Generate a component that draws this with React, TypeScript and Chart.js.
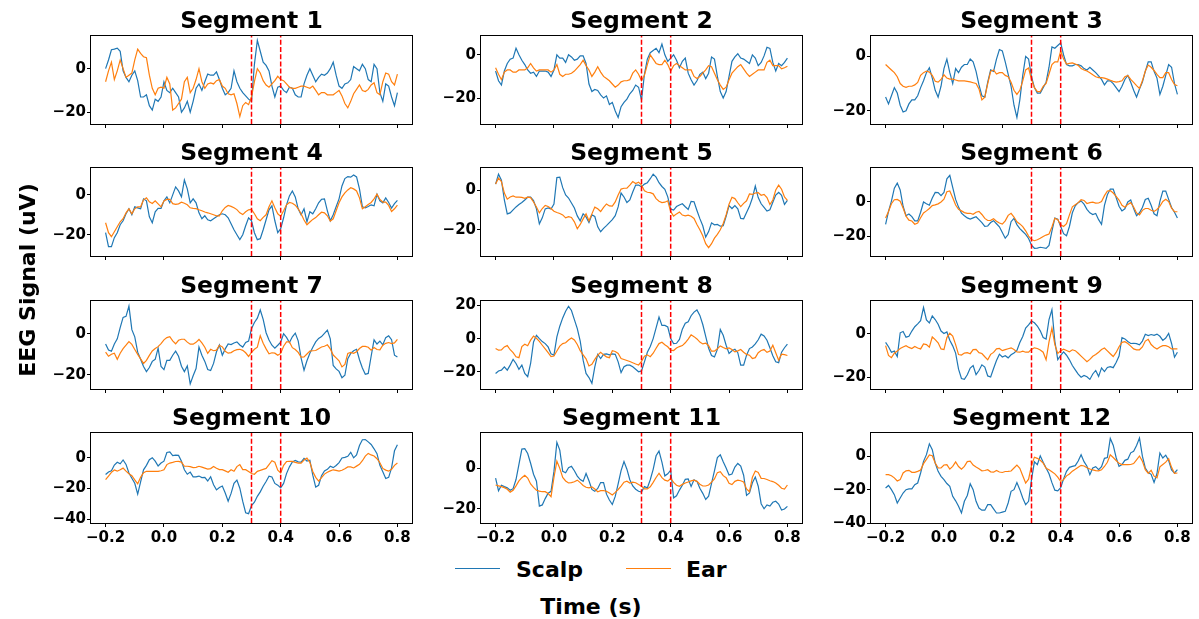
import React, { useEffect, useRef } from "react";
import { Chart, registerables } from "chart.js";

Chart.register(...registerables);

const FONT = "'DejaVu Sans', 'Liberation Sans', sans-serif";
const SCALP_COLOR = "#1f77b4";
const EAR_COLOR = "#ff7f0e";
const STIM_COLOR = "#ff0000";

// Sample times (s) of the epoch
const TIMES = [
  -0.2, -0.19, -0.18, -0.17, -0.16, -0.15, -0.14, -0.13, -0.12, -0.11,
  -0.1, -0.09, -0.08, -0.07, -0.06, -0.05, -0.04, -0.03, -0.02, -0.01,
  0.0, 0.01, 0.02, 0.03, 0.04, 0.05, 0.06, 0.07, 0.08, 0.09,
  0.1, 0.11, 0.12, 0.13, 0.14, 0.15, 0.16, 0.17, 0.18, 0.19,
  0.2, 0.21, 0.22, 0.23, 0.24, 0.25, 0.26, 0.27, 0.28, 0.29,
  0.3, 0.31, 0.32, 0.33, 0.34, 0.35, 0.36, 0.37, 0.38, 0.39,
  0.4, 0.41, 0.42, 0.43, 0.44, 0.45, 0.46, 0.47, 0.48, 0.49,
  0.5, 0.51, 0.52, 0.53, 0.54, 0.55, 0.56, 0.57, 0.58, 0.59,
  0.6, 0.61, 0.62, 0.63, 0.64, 0.65, 0.66, 0.67, 0.68, 0.69,
  0.7, 0.71, 0.72, 0.73, 0.74, 0.75, 0.76, 0.77, 0.78, 0.79,
  0.8,
];

// Analysis window boundaries (s)
const STIM_TIMES = [0.3, 0.4];

const X_TICKS = [-0.2, 0, 0.2, 0.4, 0.6, 0.8];
const X_TICK_LABELS = ["\u22120.2", "0.0", "0.2", "0.4", "0.6", "0.8"];

const SEGMENT_TITLES = [
  "Segment 1", "Segment 2", "Segment 3", "Segment 4", "Segment 5", "Segment 6",
  "Segment 7", "Segment 8", "Segment 9", "Segment 10", "Segment 11", "Segment 12",
];

// Scalp channel (uV)
const scalpSeg1 = [
  0, 4, 8.7, 9, 9.4, 8, -1, -4, -6, -3,
  -1, -5.5, -13, -13, -12, -17, -19, -14, -15, -13,
  -6, -10, -11, -9, -11, -13, -20, -18, -15, -20,
  -15, -9, -7, -10, -6, -2.5, -3, -3, -1.5, -5,
  -9, -12, -11, -9, -1, -6, -9, -11, -12.5, -14,
  -15, 2, 13, 8, 3, 1.5, -1, -8, -13, -8.5,
  -8, -10, -11, -8.5, -9, -12, -13, -13, -7, -3,
  0, -3, -6, -4, -2.5, -3, -2, 0, 3, -3,
  -8, -9, -7, -6.5, -5, 1, 0, -1, 2, 0,
  -5, -6, 2, 0, -11, -15, -7, -8, -13, -17,
  -11,
];
const scalpSeg2 = [
  -7.5, -12, -14, -7.5, -4, -2, -1.5, 3, 0, -2.5,
  -4.5, -7, -8.5, -8, -10, -7.5, -7.5, -7.5, -8, -10,
  -7, 0, -1.5, -1.5, -3.5, 0, -1, -2.5, -2, -0.5,
  -0.5, -4, -13.5, -17, -16, -16.5, -18.5, -20, -19, -23,
  -22, -26, -29, -24, -22, -20.5, -18, -16.5, -14, -15,
  -21, -9, -2, 1, 2, 3, 1, 5, 0, -3,
  -1.5, 0, -2.5, -6, -3, -1.5, -8.5, -11.5, -14, -12,
  -9, -8, -11, -8.5, -1, -2, -10, -17, -20, -17,
  -10, -3, -1, 0.5, -1.5, -2, -3, -4, 0, -1.5,
  -5, -3.5, -0.5, 3.5, 3, -3.5, -7.5, -4, -5, -3.5,
  -1.5,
];
const scalpSeg3 = [
  -15, -17.5, -14.5, -11.5, -13.5, -18, -20.5, -20, -17.5, -16,
  -16, -14.5, -11.5, -9, -6, -4.2, -8, -12.5, -15, -11,
  -4.5, -1, -6, -10, -4.5, -6, -4, -3, -3, -1,
  -2, -5.5, -10.5, -14.5, -15, -9.5, -5, -5.5, -1, 2.5,
  2, -2, -6.5, -11, -18, -22.5, -16, -7, 0, -1,
  -7.5, -11.5, -13.5, -13.5, -11.5, -9.5, -4, 3.5, 3, 4,
  5, 0.5, -3, -3.5, -3.5, -3, -3, -3.5, -4.5, -5,
  -4, -5, -6, -7.2, -8.5, -10.5, -9, -9, -10, -11.5,
  -13, -11, -8.5, -7, -9.5, -12.5, -15, -12, -9.5, -5.5,
  -2, -2, -5.5, -8, -14, -11, -7, -3, -4, -10,
  -14,
];
const scalpSeg4 = [
  -19, -26, -26, -21.5, -19, -15, -13, -9.5, -7, -10,
  -6, -6.5, -7, -2, -3, -11, -14, -8.5, -6.8, -6.8,
  -3, -1, -4, 0, 4, 2, -1, 7.5, 3, -4,
  -2, -4, -9, -12, -10.5, -12.5, -13, -12, -11, -10,
  -9.5, -10, -11.5, -14.5, -17.5, -20, -22.5, -20, -15.5, -11.5,
  -13, -19, -22.5, -22, -17.5, -12.5, -7.5, -5.5, -13, -19,
  -17, -11.5, -5, -0.5, 2, -1, -7, -10, -7, -13.5,
  -8.5, -9.5, -7, -4, -2.2, -2, -8, -13, -10, -6,
  -2, 4.5, 8.2, 9.2, 8.9, 10, 9, 3, -6, -6.5,
  -5.8, -5, -5.5, 0.3, -3, -4, -1.5, -3.8, -6.6, -4.4,
  -2.8,
];
const scalpSeg5 = [
  3, 8, 5, -5, -12, -11.5, -10, -8.5, -7.3, -6.3,
  -5, -3.6, -3.6, -5.3, -9.5, -17, -14, -9.5, -9, -9.6,
  -7, 6.3, 6.5, 1.2, -2.5, -4, -6.5, -9, -13, -15.5,
  -12, -13.5, -16.4, -12.5, -13.3, -18.5, -21, -19.3, -17.9, -16.4,
  -14.9, -12.9, -8.5, -1.5, -3.5, -6.3, -5, -1, 2.5, 2.5,
  1.7, 3, 3.7, 5.7, 8, 6.5, 3.7, 1.8, 0.4, -3.4,
  -9.6, -10.1, -8.3, -7.5, -6.9, -8.4, -9.8, -5.7, -5.9, -10.3,
  -14.4, -18, -23.7, -20.9, -16.5, -17.5, -17.3, -18.2, -18, -13.2,
  -7.8, -9.3, -7.8, -9.5, -14.3, -14.5, -11.3, -8.2, -4, 2,
  -3.8, -6.9, -8.7, -10.6, -9.9, -6.1, -2.5, -1.2, -2.7, -7.2,
  -5.2,
];
const scalpSeg6 = [
  -13, -5.5, 0.5, 8, 11, 7, -2.5, -8, -7, -8.5,
  -11, -11, -6, 0, -1, -1.9, 2.3, 5.6, 5.5, 3.7,
  5.5, 13.5, 15.5, 8.5, 1.5, -3, -6.5, -8, -9.3, -10,
  -9.3, -8.6, -10.3, -12, -14.2, -14, -12, -10.9, -12.7, -14.5,
  -17.8, -21.1, -19, -11.5, -9.5, -13.2, -15.5, -17.2, -18.9, -21.3,
  -25.2, -27, -26.9, -26.4, -26.7, -27.1, -25.3, -17, -9.4, -10,
  -14.3, -18.5, -19.7, -14.3, -6.3, -2.2, -0.4, 0.6, -1.3, -4.3,
  -6.3, -7.3, -6.7, -10.3, -13, -2, 4.2, 7.5, 7.5, 2.6,
  -2.5, -5.2, -4, 0, 1.2, -3.9, -8, -6.3, -3.2, 1.4,
  2.2, -1.9, -6.9, -8, 0.4, 6.3, 6.3, 1.5, -3.2, -6,
  -9.4,
];
const scalpSeg7 = [
  -5, -8, -8.5, -5, -2.5, 3, 8, 8.5, 13.5, 2,
  -1.5, -9, -12.5, -16, -18.5, -16.5, -13.5, -12.5, -7, -16,
  -17.5, -13, -13, -10.5, -8.5, -11, -15.9, -18.5, -15.7, -24.5,
  -20.5, -17, -6.5, -10.5, -13.5, -17.5, -18, -14.5, -8.8, -5.5,
  -10.5, -7.4, -5, -5.3, -4.5, -4, -5.5, -6.5, -4.3, -3.6,
  2.5, 5.5, 7.6, 11.6, 7, 0.5, -3.1, -5.6, -7, -5.6,
  -4.1, 0, -1.8, -4.3, -1.5, 0.3, -3.5, -11.9, -17.8, -13.2,
  -9.5, -6.6, -4, -2.3, -1.4, 0.2, 1.8, -2.5, -15.5, -17.2,
  -18.4, -21.5, -20.3, -12.2, -9.6, -8.3, -7.6, -12.7, -16.7, -19.8,
  -19.4, -11, -3, -5, -3.6, -5.4, -1.9, -1, -2.9, -10.5,
  -11.4,
];
const scalpSeg8 = [
  -21, -19.5, -19, -17, -19, -16, -12.5, -15, -18.5, -16,
  -21, -23, -15, -2, 2, 0, -1.8, -3, -5, -9.2,
  -10, 1, 7.5, 12.5, 16.5, 19.5, 17, 11.5, 6, -1.5,
  -13, -21, -23.5, -27, -17, -9.5, -12, -9.5, -9.2, -9.8,
  -9.2, -9.5, -14, -20.5, -17, -16, -16, -17, -18.5, -20,
  -19.5, -14, -8.2, -4.8, 0, 6.5, 13, 8, 8, 7,
  0, -3, -2.8, -0.5, 5.7, 9.3, 10.2, 13.8, 16, 17.3,
  14, 8.5, 1.3, -5.8, -10.2, -11, -6.5, 5.5, 2, -4,
  -9, -7.3, -6.4, -8.5, -16, -16, -10, -6, -5, -3.2,
  -0.7, 2.7, 1.6, -1, -5.5, -10.3, -14, -14.5, -8.2, -5.5,
  -3.3,
];
const scalpSeg9 = [
  -4, -6, -8.5, -8, -10.5, 0.4, 1, -1.6, -1.2, 1.2,
  3.2, 4.5, 6, 12, 6.3, 4.9, 8.2, 6.5, 4.3, 1.2,
  0.1, 0.8, -3, -5.6, -8.9, -16.3, -20.6, -21, -18.9, -15.8,
  -14.6, -18.8, -16.9, -14.3, -15.3, -19.4, -19.9, -16, -12.3, -9.4,
  -10.7, -10.1, -11.1, -9.7, -8.9, -7.7, -4.1, -1.3, 2.6, 4,
  5.8, 5, 3.5, 1.3, -1.8, -2.5, 6.5, 11, -3.5, -11.9,
  -10, -8.4, -9.9, -12, -14.6, -16.6, -18.6, -20, -19.2, -19.8,
  -21, -18.5, -16.9, -19.6, -15.7, -17.4, -15.5, -15.1, -15.6, -13.2,
  -10.3, -1.8, -2.4, -3.6, -4.5, -4.4, -4.6, -5.1, -3.4, -0.3,
  -0.9, -0.4, -0.8, -0.2, -1.2, -3.1, -2, 0.1, -4.5, -10.8,
  -8.5,
];
const scalpSeg10 = [
  -11, -9.3, -8.5, -4.8, -3, -4, -1.5, -4.4, -10, -13.4,
  -16.7, -23.8, -15.8, -7.9, -5, -1.3, 0, -2.3, -5.4, -3.5,
  -2.3, 3.4, 3.8, 1.3, 1.7, 1.5, -2.3, -7.9, -10.8, -9.4,
  -12.5, -12.5, -12, -13, -12.8, -15.2, -12.4, -17.6, -21, -19.4,
  -18.5, -23, -28.4, -23.3, -16.7, -14.6, -19.9, -28.5, -35.9, -36.5,
  -31.2, -29, -25.2, -22.3, -18.6, -15.5, -12.1, -12.6, -16.8, -17.9,
  -19.7, -16.8, -10.4, -6, -2.8, -1.8, -2.7, -2.9, -0.4, -2.2,
  -1.7, -11.4, -19.2, -18, -11.7, -8.6, -7.6, -5.6, -6.5, -5.1,
  -3.2, -0.2, 0.2, 0.9, 3.5, -0.1, 1.8, 7.9, 11.7, 11.8,
  10.3, 8.6, 5.8, 2.6, -5, -9.2, -13.6, -12.8, -6.7, 4.5,
  8.5,
];
const scalpSeg11 = [
  -4.8, -11, -8.3, -9, -9.6, -10.8, -10, -5.5, 2, 9.5,
  9.7, 7.3, 2.5, -2.9, -6.3, -18.6, -18, -14.9, -12.2, -11.3,
  -1.5, 12.8, 9, -1.5, -2.2, 0.3, 1, -1.2, -3.8, -5.5,
  -6.4, -2.5, -6.1, -10.4, -11.3, -9.9, -7, -7, -12.7, -15.6,
  -17.8, -13.8, -7.6, -1.1, 3.3, -0.4, -5.6, -8.7, -10.3, -11.3,
  -11.7, -9, -9.6, -5.6, -0.5, 6.2, 8.5, 3.1, -3.7, -2.7,
  -0.9, -14.5, -13.5, -10.7, -8.3, -5.4, -5.2, -8.9, -5.6, -6.4,
  -9.8, -12.3, -15.3, -13.7, -7.4, -1.2, 5.3, 6.7, 3.2, 0.2,
  -3.3, -2.8, 0.6, 2.4, 1.1, -3.4, -13.3, -12.1, -7.1, -4.3,
  -8.8, -17.4, -19.9, -18, -18.6, -16.7, -16.2, -17.6, -20.5, -20,
  -18.7,
];
const scalpSeg12 = [
  -19, -17.5, -20, -23, -28, -25, -22, -20, -19.5, -19.5,
  -17, -16, -10, -3, 1, 7.5, 4, -4, -9, -12,
  -14, -16.3, -18, -24, -26.7, -30, -34, -27, -23.5, -16.5,
  -20, -27, -31, -32.3, -32.3, -29, -29, -31.5, -34, -34,
  -33.5, -33, -28, -21, -20, -15.7, -20, -25, -29, -27,
  -14, -3.3, -5, 0.3, -3.6, -7, -10.5, -15.8, -20.3, -20.7,
  -18.8, -13.5, -9, -6.6, -6, -5.6, -2.8, 1, -3.2, -5.9,
  -11, -7, -6.2, -8, -6.2, -1.2, -0.7, 10.7, 6.7, -0.7,
  -6, -5, -2.4, -1.7, 2.1, 3, 6.5, 11, 0.1, -7,
  -9.7, -10.8, -15.7, -10.3, 2, -1, 0.7, -2.5, -8.2, -10,
  -8,
];

// Ear reference channel (uV)
const earSeg1 = [
  -6, -1, 3, -5, -1, 4, 0, -4, -3, -2,
  4, 9, 7, 5.5, 5, -3, -9, -12, -9, -8.5,
  -9, -4, -7, -19, -18, -16, -14, -6, -4, -11,
  -9, -5, 0, -6, -9, -7, -6.5, -7, -5.5, -5,
  -8, -9, -11.5, -12, -11.5, -16, -22, -17, -15.5, -16.5,
  -13, -6, 0, -2, -5.5, -7.5, -8.5, -7, -5.5, -3.5,
  -5, -5.5, -7, -8.5, -9, -9, -8.5, -8, -8, -8.5,
  -9, -8, -10, -12, -11, -11, -12, -12, -12, -11,
  -10, -12.5, -16, -18, -15, -11.5, -9.5, -7.5, -10, -10.5,
  -9.5, -7.5, -6.5, -11, -12, -6, -2, -2.5, -6, -7.5,
  -2.5,
];
const earSeg2 = [
  -6, -9, -11.5, -8, -7, -7, -8, -8, -7, -7,
  -7, -6, -4, -6, -7.5, -7, -7, -7, -7, -8,
  -7, -4.5, -9, -10, -9, -9, -8.5, -7.5, -6, -4.5,
  -2.5, -5, -7, -10, -8, -5.5, -8, -10, -11, -12,
  -13.5, -15, -14, -12.5, -12, -12, -11.5, -8.5, -7, -9,
  -12, -9.5, -4.5, 0, -2, -4, -4.5, -4.5, -2.5, -4.5,
  -7.5, -5, -4, -5, -6, -7, -7, -7, -10, -11,
  -10, -8.5, -7, -5, -5.5, -8.5, -11.5, -14, -16, -15,
  -11.5, -8.5, -7, -5.5, -4.5, -6.5, -8.5, -10, -9, -8,
  -7, -7, -7, -3.5, -2.5, -5, -5, -5, -6.5, -6,
  -5.3,
];
const earSeg3 = [
  -3, -4, -5, -6, -7.5, -10, -11, -11.4, -11, -11,
  -10.5, -9.6, -7, -6, -5.4, -5.8, -7, -9.2, -9.5, -8.5,
  -6.8, -8, -8.4, -8.4, -8.7, -9, -9, -9, -9.2, -9.4,
  -9.7, -10, -12, -16, -15, -10, -5.5, -5, -6.5, -6,
  -6, -7, -7.5, -9.5, -12.5, -14, -12.5, -9, -5, -4.3,
  -8.5, -11.5, -13, -13, -11, -10, -6.5, -3, -2, -2,
  2, -1, -2.8, -2.6, -2.4, -2.8, -3.3, -4.5, -5, -5.4,
  -6, -6.8, -7.5, -7.8, -7.8, -8, -8.4, -8.8, -9.2, -9.5,
  -9.3, -9, -7.5, -7, -8.5, -9.6, -10.8, -11.8, -9, -5.4,
  -3.2, -4, -5.2, -6.6, -7.8, -7.8, -6, -6, -8.5, -10.4,
  -10.8,
];
const earSeg4 = [
  -14, -19, -21, -18.5, -16, -13.5, -12, -9, -7, -9.5,
  -7, -6, -6, -2.5, -1.5, -3.5, -4.3, -3, -4.5, -6,
  -3, -2.3, -2.2, -4.4, -4.8, -4.5, -3.7, -4.2, -5, -6.5,
  -6.8, -6.9, -7.5, -8, -8.6, -9, -9.5, -10, -10.5, -10.5,
  -8, -6.3, -5.3, -5.8, -6.5, -7.4, -9, -9.9, -8.5, -7.5,
  -7.3, -9.5, -12, -13, -11.3, -10, -6, -3, -6.5, -9.5,
  -10.8, -8, -5, -3.8, -4.2, -5.2, -7, -9.5, -12.6, -15,
  -13.6, -12.3, -11.4, -10, -8.7, -9, -10.5, -13.2, -12, -8,
  -4, -1, 1, 2.5, 3.6, 3, 2, -1.5, -7, -6,
  -4.8, -3.8, -2, 0.3, -2.3, -3.6, -3.6, -5.3, -8.3, -7,
  -5.2,
];
const earSeg5 = [
  3, 6, 4.3, -1.5, -4.6, -3.5, -3, -3.6, -3.6, -3.7,
  -4.2, -3.6, -3.8, -6, -8.5, -11.5, -9.3, -7.7, -8.3, -9.3,
  -10.7, -11.3, -11.8, -12.5, -14, -13.4, -13.8, -16, -19.5, -17.3,
  -14.5, -12, -15.5, -12, -8.6, -9.4, -10.8, -8.7, -7, -8,
  -8.1, -6, -2.5, 0.5, 0.9, 1, 2.5, 4.3, 3.3, 4,
  2.5, -0.4, -1.1, -1.3, -1.9, -4.3, -5.6, -6.3, -6.1, -5.4,
  -10.9, -13.1, -12, -11.1, -12.6, -13, -12.6, -13.2, -14.3, -17.3,
  -20, -23, -27, -29, -27, -24.2, -22.3, -20, -16.8, -12.5,
  -7.1, -3.6, -4.3, -6.4, -8.3, -6.7, -5.4, -2, -2.2, -1.5,
  -1.3, -2.6, -2.2, -3.8, -7.3, -5, 0, 2.5, 0.4, -3.5,
  -5.2,
];
const earSeg6 = [
  -9.4, -5.5, -1, 1.3, 1.5, 0.4, -3.5, -8.3, -10.6, -11.1,
  -13, -12.3, -9.2, -6.4, -5.2, -3.8, -2.1, -1.7, -1.1, 0,
  1.6, 6, 6.4, 2.5, -1.8, -4.3, -5.2, -6.2, -6.6, -6.6,
  -7.2, -6, -5.5, -7.3, -9.6, -10.8, -10.7, -9.8, -11.2, -12.3,
  -12.9, -11, -7.8, -6.6, -8.8, -11.6, -12.8, -14.4, -16.8, -19.9,
  -21.9, -22.6, -22, -21.2, -20.1, -19.3, -18.7, -14.6, -9.5, -10.3,
  -13.3, -14.3, -12.6, -7.5, -2.8, -1.6, -0.4, 1.3, 0.9, -0.9,
  -0.4, -0.1, -0.7, -0.6, 0.2, 3.7, 6.4, 6.6, 5.2, 3.3,
  1.1, -1.9, -3.1, -1.4, -0.4, -2.9, -6.4, -7.6, -4.9, -3.8,
  -3.8, -4.8, -5.5, -4.4, -2.5, 0.3, 1.6, 0.2, -3.6, -5.7,
  -5.7,
];
const earSeg7 = [
  -9, -11, -10, -9.5, -12.5, -9.5, -7.3, -5.6, -3.8, -5.2,
  -7.7, -10.1, -12.3, -14.5, -13, -10.6, -8.4, -7.2, -6.3, -4.8,
  -3, -1.9, -1.4, -3.5, -4.9, -3.2, -2.7, -2.7, -4.1, -5.1,
  -5.1, -4.2, -2.8, -4.5, -6.6, -9.6, -7.6, -8.3, -8, -5.6,
  -6.4, -8.6, -9.5, -9.2, -8.3, -7.8, -7.6, -8.1, -9.3, -11.1,
  -9.1, -7.6, -6.6, -1, -4.6, -7.4, -9.8, -9.3, -9.5, -10.5,
  -9.6, -6.1, -4, -4, -6.8, -7.7, -9.1, -11.4, -11.3, -9.9,
  -8.5, -8.3, -8.2, -7.3, -6.5, -6.1, -5.4, -7.4, -10.4, -11.8,
  -13.2, -16.2, -15, -9.6, -9.1, -9.6, -8.8, -7.2, -6.2, -6.2,
  -6.6, -8, -6.7, -7.7, -7.9, -5.6, -4.7, -4.3, -4.8, -4.5,
  -2.7,
];
const earSeg8 = [
  -6, -7, -6.8, -5, -4.2, -6.7, -8.4, -11, -11.5, -4.8,
  -3.4, -4.3, -0.9, 1.5, 0.2, -1.7, -4, -6.2, -8.5, -10.8,
  -10.5, -7.5, -4.5, -3, -2.5, -0.8, 0.4, -0.8, -3.5, -7.3,
  -9.8, -12.2, -16.5, -15.5, -12.5, -10, -8.3, -9.8, -11, -11.5,
  -7.3, -7.8, -9, -12, -12.6, -13.2, -13.8, -14.6, -15.3, -15.9,
  -13.8, -10.6, -9.8, -10.9, -8.8, -5.8, -3, -2.2, -3.7, -4.9,
  -7, -7.2, -5.7, -4.8, -4.2, -2.5, -0.3, 2.3, 1.2, -0.2,
  -2.1, -3.2, -2.7, -4.3, -7.6, -7.6, -6.1, -4.4, -5.4, -6.2,
  -5.6, -6.6, -8, -7.4, -6.6, -8.2, -9.5, -10, -12, -11.5,
  -8.5, -7.2, -6.6, -8.3, -7.5, -4, -8.5, -13, -9.4, -9.7,
  -10.2,
];
const earSeg9 = [
  -5.5, -10, -11, -9, -8, -6.8, -6.1, -5.5, -6.3, -6.8,
  -5.9, -6.6, -7, -4.7, -5, -6.2, -1.5, -2.7, -4.2, -7,
  -7.3, -1.8, 0.2, -1.1, -5, -9.6, -9.8, -8.9, -8.7, -9.2,
  -7.3, -7.2, -8.7, -9.1, -10.6, -12, -9.5, -8.6, -7, -6.8,
  -7.8, -7.3, -6.9, -6.5, -7.3, -8.4, -8.5, -8, -8.5, -8.5,
  -7.2, -6.5, -6.8, -7.5, -8.5, -12, -3.8, 2.5, -5, -9.1,
  -7.8, -7.1, -7.7, -8.3, -7.4, -7.8, -9, -10.3, -11.6, -12.9,
  -11.8, -10.4, -9.6, -8.5, -7.3, -6.6, -7.9, -9.2, -10.5, -8.6,
  -6, -4, -3.7, -4.5, -5.7, -7, -7.4, -7.4, -6.1, -3.4,
  -2.6, -5, -6.2, -7, -6.1, -5.5, -5.5, -6, -7, -7,
  -7,
];
const earSeg10 = [
  -14.3, -12, -9.6, -8, -8.8, -7.9, -6.8, -8.8, -10.5, -11.8,
  -14.5, -17, -12.8, -9.8, -8.9, -8.9, -8.9, -8.9, -8.9, -8.5,
  -7.9, -4.5, -3.5, -3.1, -2.5, -2.4, -2.9, -5.6, -5.6, -5.8,
  -6.5, -6.3, -5.6, -6.2, -6.8, -7.5, -7.1, -5.8, -6.9, -7.8,
  -7.8, -8.6, -9.5, -7.9, -8.9, -5.8, -4.5, -7.8, -7.8, -9,
  -10.3, -10.8, -8.9, -8.3, -7.6, -7, -4.5, -2, -3, -8.2,
  -9.9, -5, -2.5, -2.4, -2.4, -3.1, -3.5, -3.5, -1.5, -0.3,
  -3, -9, -12.8, -15.3, -13, -10.7, -9.5, -8.6, -7.9, -8.3,
  -8.8, -8.2, -7.2, -6, -6, -6.7, -5.5, -4.3, -2, 1,
  2.8, 1.8, 1.1, -0.7, -3.3, -7, -8.1, -8.8, -7.6, -5,
  -3.5,
];
const earSeg11 = [
  -8.2, -8.6, -9, -9.5, -10.3, -11.7, -10.8, -8.6, -6.2, -4.6,
  -3.4, -4.8, -7.7, -9.4, -10.8, -11.2, -11.5, -11.5, -12.4, -13.9,
  -4.5, 3.5, 0, -4.5, -6.2, -7.2, -7, -6.6, -5.8, -7,
  -8.4, -9.3, -9.6, -9.1, -10.2, -11.5, -11, -10.9, -11.3, -12.1,
  -13.1, -11.8, -10.4, -8.7, -6.8, -6.3, -7.2, -6.8, -7.1, -8,
  -8.8, -10.1, -10.1, -9.1, -6.9, -4.5, -2.4, -4.6, -5.8, -6.3,
  -5, -6.9, -8.3, -8.8, -7.9, -7.2, -6.7, -6.2, -5.8, -6.4,
  -7.8, -8.7, -8.7, -8.2, -6.8, -5.2, -2.1, -1.6, -3.6, -4.6,
  -7.4, -8, -6.4, -5.8, -6.1, -6.7, -10.1, -11.5, -4.4, -1.3,
  -2, -4.9, -5, -5.5, -6.1, -6.5, -7.2, -8.3, -9.8, -10.2,
  -8.2,
];
const earSeg12 = [
  -11, -11, -11.6, -12.9, -14.8, -14, -10, -8.7, -8.4, -9.6,
  -9.6, -9, -8.2, -4.4, -1.8, 0.8, 0.4, -4, -6.9, -7,
  -5.2, -5, -7.7, -6, -3.3, -6.1, -7.7, -6, -3.2, -2.9,
  -5.2, -6.4, -7.4, -8.7, -8.5, -8, -9.3, -9.5, -8.5, -9.4,
  -9.7, -9.1, -9, -8.8, -7, -5.3, -7.2, -11.7, -16, -13.7,
  -5.5, -0.5, -1.2, -2.4, -4.1, -7.2, -8, -9.2, -10.5, -12.5,
  -15.1, -14, -11.7, -10.6, -8.9, -7.8, -6.6, -5.4, -5.8, -6.9,
  -7.6, -8.1, -8.6, -8.7, -8.1, -6.1, -3.6, 0.9, -0.7, -2.5,
  -4.2, -5, -5, -5, -4.9, -4.3, -2.1, 0.2, -2.9, -8,
  -10.2, -8.4, -11.9, -12.9, -6.3, -4.9, -3.5, -1.4, -6.6, -10.2,
  -10,
];

const SCALP = [scalpSeg1, scalpSeg2, scalpSeg3, scalpSeg4, scalpSeg5, scalpSeg6, scalpSeg7, scalpSeg8, scalpSeg9, scalpSeg10, scalpSeg11, scalpSeg12];
const EAR = [earSeg1, earSeg2, earSeg3, earSeg4, earSeg5, earSeg6, earSeg7, earSeg8, earSeg9, earSeg10, earSeg11, earSeg12];

// Per-panel y limits and ticks (uV)
const Y_MIN = [-25.4, -32, -24.9, -30.7, -33.2, -31.5, -27, -30.4, -25.4, -42.6, -26.9, -40];
const Y_MAX = [15, 8.7, 7.5, 13.5, 11.1, 19.8, 16, 22.7, 15, 16.1, 17.4, 14];
const Y_TICKS = [
  [-20, 0], [-20, 0], [-20, 0],
  [-20, 0], [-20, 0], [-20, 0],
  [-20, 0], [-20, 0, 20], [-20, 0],
  [-40, -20, 0], [-20, 0], [-40, -20, 0],
];

// Grid geometry of the subplot layout (px)
const COL_LEFT = [91, 481, 871];
const ROW_TOP = [36, 168, 301, 433];
const PLOT_W = 321;
const PLOT_H = 90;
const Y_AXIS_W = 60;
const TITLE_H = 36;
const RIGHT_PAD = 8;

const fmtY = (v: number) => String(v).replace("-", "\u2212");

const toPoints = (vals: number[]) => vals.map((y, i) => ({ x: TIMES[i], y }));

const framePlugin = {
  id: "panelFrame",
  afterDatasetsDraw(chart: any) {
    const { ctx, chartArea: a, scales } = chart;
    ctx.save();
    ctx.beginPath();
    ctx.rect(a.left, a.top, a.right - a.left, a.bottom - a.top);
    ctx.clip();
    ctx.strokeStyle = STIM_COLOR;
    ctx.lineWidth = 1.5;
    ctx.setLineDash([5, 2.2]);
    for (const t of STIM_TIMES) {
      const x = scales.x.getPixelForValue(t);
      ctx.beginPath();
      ctx.moveTo(x, a.bottom);
      ctx.lineTo(x, a.top);
      ctx.stroke();
    }
    ctx.restore();
    ctx.save();
    ctx.strokeStyle = "#000";
    ctx.lineWidth = 1;
    ctx.strokeRect(a.left - 0.5, a.top - 0.5, a.right - a.left + 1, a.bottom - a.top + 1);
    ctx.restore();
  },
};

function Panel({ index }: { index: number }) {
  const ref = useRef<HTMLCanvasElement>(null);
  const row = Math.floor(index / 3);
  const col = index % 3;
  const showX = row === 3;
  const xAxisH = showX ? 30 : 8;
  const width = Y_AXIS_W + PLOT_W + RIGHT_PAD;
  const height = TITLE_H + PLOT_H + xAxisH;

  useEffect(() => {
    const chart = new Chart(ref.current as HTMLCanvasElement, {
      type: "line",
      data: {
        datasets: [
          {
            label: "Ear",
            data: toPoints(EAR[index]),
            borderColor: EAR_COLOR,
            borderWidth: 1.2,
            pointRadius: 0,
            tension: 0,
            order: 0,
          },
          {
            label: "Scalp",
            data: toPoints(SCALP[index]),
            borderColor: SCALP_COLOR,
            borderWidth: 1.2,
            pointRadius: 0,
            tension: 0,
            order: 1,
          },
        ],
      },
      options: {
        animation: false,
        responsive: false,
        devicePixelRatio: 1,
        events: [],
        layout: { padding: { top: 0, right: RIGHT_PAD, bottom: 0, left: 0 } },
        plugins: {
          legend: { display: false },
          tooltip: { enabled: false },
          title: {
            display: true,
            text: SEGMENT_TITLES[index],
            fullSize: false,
            color: "#000",
            font: { size: 23.5, weight: "bold", family: FONT, lineHeight: "28px" },
            padding: { top: 8, bottom: 0 },
          },
        },
        scales: {
          x: {
            type: "linear",
            min: -0.25,
            max: 0.85,
            afterBuildTicks: (axis: any) => {
              axis.ticks = X_TICKS.map((v) => ({ value: v }));
            },
            afterFit: (scale: any) => {
              scale.height = xAxisH;
            },
            border: { display: false },
            grid: { display: true, drawOnChartArea: false, drawTicks: true, tickLength: 4, color: "#000", lineWidth: 1 },
            ticks: {
              display: showX,
              autoSkip: false,
              maxRotation: 0,
              padding: 2,
              color: "#000",
              font: { size: 15, weight: "bold", family: FONT },
              callback: (v: any) => X_TICK_LABELS[X_TICKS.indexOf(v)],
            },
          },
          y: {
            type: "linear",
            min: Y_MIN[index],
            max: Y_MAX[index],
            afterBuildTicks: (axis: any) => {
              axis.ticks = Y_TICKS[index].map((v) => ({ value: v }));
            },
            afterFit: (scale: any) => {
              scale.width = Y_AXIS_W;
            },
            border: { display: false },
            grid: { display: true, drawOnChartArea: false, drawTicks: true, tickLength: 4, color: "#000", lineWidth: 1 },
            ticks: {
              autoSkip: false,
              padding: 1,
              color: "#000",
              font: { size: 15, weight: "bold", family: FONT },
              callback: (v: any) => fmtY(v),
            },
          },
        },
      } as any,
      plugins: [framePlugin],
    });
    return () => chart.destroy();
  }, [index]);

  return (
    <canvas
      ref={ref}
      width={width}
      height={height}
      style={{
        position: "absolute",
        left: COL_LEFT[col] - Y_AXIS_W,
        top: ROW_TOP[row] - TITLE_H,
        width,
        height,
      }}
    />
  );
}

const labelFont = `bold 22px ${FONT}`;

export default function App() {
  return (
    <div
      style={{
        position: "fixed",
        left: 0,
        top: 0,
        width: 1199,
        height: 619,
        background: "#fff",
        overflow: "hidden",
        fontFamily: FONT,
      }}
    >
      {SEGMENT_TITLES.map((_, i) => (
        <Panel key={i} index={i} />
      ))}

      {/* y-axis label */}
      <div
        style={{
          position: "absolute",
          left: 26 - 150,
          top: 280 - 11,
          width: 300,
          height: 22,
          lineHeight: "22px",
          font: labelFont,
          textAlign: "center",
          color: "#000",
          transform: "rotate(-90deg)",
          whiteSpace: "nowrap",
        }}
      >
        EEG Signal (uV)
      </div>

      {/* legend */}
      <div style={{ position: "absolute", left: 455, top: 568, width: 45, height: 0, borderTop: `1.5px solid ${SCALP_COLOR}` }} />
      <div style={{ position: "absolute", left: 516, top: 557, lineHeight: "22px", font: labelFont, color: "#000", whiteSpace: "nowrap" }}>
        Scalp
      </div>
      <div style={{ position: "absolute", left: 626, top: 568, width: 45, height: 0, borderTop: `1.5px solid ${EAR_COLOR}` }} />
      <div style={{ position: "absolute", left: 686, top: 557, lineHeight: "22px", font: labelFont, color: "#000", whiteSpace: "nowrap" }}>
        Ear
      </div>

      {/* x-axis label */}
      <div
        style={{
          position: "absolute",
          left: 491,
          top: 594,
          width: 200,
          lineHeight: "22px",
          font: labelFont,
          textAlign: "center",
          color: "#000",
          whiteSpace: "nowrap",
        }}
      >
        Time (s)
      </div>
    </div>
  );
}
